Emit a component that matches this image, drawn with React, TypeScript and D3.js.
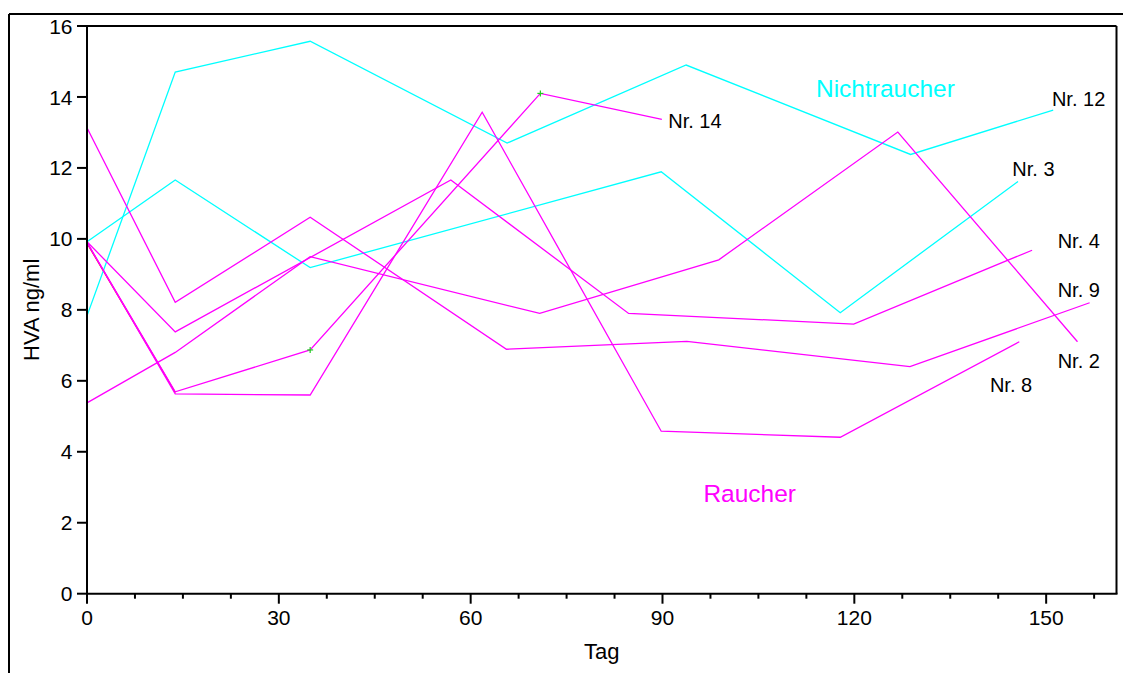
import React from "react";
import * as d3 from "d3";

// ---- data ----
const xTicksMajor = [0, 30, 60, 90, 120, 150];
const xTicksMinor = [7.5, 15, 22.5, 37.5, 45, 52.5, 67.5, 75, 82.5, 97.5, 105, 112.5, 127.5, 135, 142.5, 157.5];
const yTicks = [0, 2, 4, 6, 8, 10, 12, 14, 16];

const nr12Days = [0, 13.8, 34.9, 65.7, 93.7, 128.8, 151.1];
const nr12Vals = [7.83, 14.7, 15.57, 12.7, 14.9, 12.38, 13.63];

const nr3Days = [0, 13.8, 34.9, 89.8, 117.8, 145.6];
const nr3Vals = [9.92, 11.66, 9.19, 11.89, 7.92, 11.62];

const nr14Days = [0, 13.8, 34.9, 70.9, 89.9];
const nr14Vals = [9.9, 5.69, 6.87, 14.1, 13.37];

const nr8Days = [0, 13.8, 34.9, 61.8, 89.8, 117.8, 145.8];
const nr8Vals = [9.9, 5.63, 5.6, 13.57, 4.58, 4.41, 7.1];

const nr2Days = [0, 13.8, 34.9, 70.8, 98.8, 126.8, 154.9];
const nr2Vals = [5.38, 6.8, 9.5, 7.9, 9.41, 13.01, 7.1];

const nr9Days = [0, 13.8, 34.9, 65.6, 93.8, 128.7, 156.8];
const nr9Vals = [13.13, 8.21, 10.61, 6.89, 7.11, 6.4, 8.2];

const nr4Days = [0, 13.8, 56.9, 84.7, 119.9, 147.8];
const nr4Vals = [9.92, 7.38, 11.66, 7.9, 7.6, 9.68];

const redDays = [0, 13.8];
const redVals = [9.88, 5.67];

const markerDays = [34.9, 70.9];
const markerVals = [6.87, 14.1];

const labelTexts = ["Nr. 14", "Nr. 12", "Nr. 3", "Nr. 4", "Nr. 9", "Nr. 2", "Nr. 8"];
const labelDays = [90.9, 150.9, 144.7, 151.8, 151.8, 151.8, 141.2];
const labelVals = [13.12, 13.75, 11.77, 9.74, 8.37, 6.35, 5.69];

const groupTexts = ["Nichtraucher", "Raucher"];
const groupDays = [114.0, 96.4];
const groupVals = [14.01, 2.59];

const CYAN = "#00ffff";
const MAGENTA = "#ff00ff";

export default function App() {
  const W = 1123, H = 673;
  const left = 87, right = 1116.5, top = 26, bottom = 593.7;
  const x = d3.scaleLinear().domain([0, 161]).range([left, right]);
  const y = d3.scaleLinear().domain([0, 16]).range([bottom, top]);
  const font = "'Liberation Sans', Arial, Helvetica, sans-serif";

  const line = (days: number[], vals: number[]) =>
    d3.line<number>().x((_, i) => x(days[i])).y((v) => y(v))(vals) || "";

  const series = [
    { d: redDays, v: redVals, c: "#ff0000" },
    { d: nr12Days, v: nr12Vals, c: CYAN },
    { d: nr3Days, v: nr3Vals, c: CYAN },
    { d: nr8Days, v: nr8Vals, c: MAGENTA },
    { d: nr14Days, v: nr14Vals, c: MAGENTA },
    { d: nr2Days, v: nr2Vals, c: MAGENTA },
    { d: nr9Days, v: nr9Vals, c: MAGENTA },
    { d: nr4Days, v: nr4Vals, c: MAGENTA },
  ];

  return (
    <div style={{ position: "absolute", left: 0, top: 0, width: W, height: H, background: "#fff" }}>
      <svg width={W} height={H} style={{ display: "block" }} fontFamily={font}>
        <rect x={0} y={0} width={W} height={H} fill="#fff" />
        {/* outer frame */}
        <line x1={9} y1={14} x2={W} y2={14} stroke="#000" strokeWidth={2} />
        <line x1={9} y1={14} x2={9} y2={H} stroke="#000" strokeWidth={2} />

        {/* data lines */}
        {series.map((s, i) => (
          <path key={i} d={line(s.d, s.v)} fill="none" stroke={s.c} strokeWidth={1.3} strokeLinejoin="miter" />
        ))}

        {/* green markers */}
        {markerDays.map((d, i) => (
          <g key={i} stroke="#22cc22" strokeWidth={1.2}>
            <line x1={x(d) - 3} x2={x(d) + 3} y1={y(markerVals[i])} y2={y(markerVals[i])} />
            <line x1={x(d)} x2={x(d)} y1={y(markerVals[i]) - 3} y2={y(markerVals[i]) + 3} />
          </g>
        ))}

        {/* plot frame */}
        <line x1={left} y1={top} x2={right} y2={top} stroke="#000" strokeWidth={2} />
        <line x1={right} y1={top} x2={right} y2={bottom} stroke="#000" strokeWidth={2} />
        <line x1={left} y1={top} x2={left} y2={bottom + 1} stroke="#000" strokeWidth={2} />
        <line x1={left - 1} y1={bottom} x2={right + 1} y2={bottom} stroke="#000" strokeWidth={2} />

        {/* y ticks */}
        {yTicks.map((t) => (
          <g key={t}>
            <line x1={left - 10} x2={left} y1={y(t)} y2={y(t)} stroke="#000" strokeWidth={2} />
            <text x={72.5} y={y(t)} dy="0.36em" textAnchor="end" fontSize={21} fill="#000">
              {t}
            </text>
          </g>
        ))}

        {/* x ticks */}
        {xTicksMajor.map((t) => (
          <g key={t}>
            <line x1={x(t)} x2={x(t)} y1={bottom} y2={bottom + 10} stroke="#000" strokeWidth={2} />
            <text x={x(t)} y={625} textAnchor="middle" fontSize={21} fill="#000">
              {t}
            </text>
          </g>
        ))}
        {xTicksMinor.map((t) => (
          <line key={t} x1={x(t)} x2={x(t)} y1={bottom} y2={bottom + 5} stroke="#000" strokeWidth={2} />
        ))}

        {/* axis titles */}
        <text x={(left + right) / 2} y={659} textAnchor="middle" fontSize={22} fill="#000">
          Tag
        </text>
        <text
          transform={`translate(39,${(top + bottom) / 2}) rotate(-90)`}
          textAnchor="middle"
          fontSize={22}
          fill="#000"
        >
          HVA ng/ml
        </text>

        {/* series labels */}
        {labelTexts.map((t, i) => (
          <text key={t} x={x(labelDays[i])} y={y(labelVals[i])} fontSize={20} fill="#000">
            {t}
          </text>
        ))}

        {/* group labels */}
        {groupTexts.map((t, i) => (
          <text key={t} x={x(groupDays[i])} y={y(groupVals[i])} fontSize={24.5} fill={i === 0 ? CYAN : MAGENTA}>
            {t}
          </text>
        ))}
      </svg>
    </div>
  );
}
